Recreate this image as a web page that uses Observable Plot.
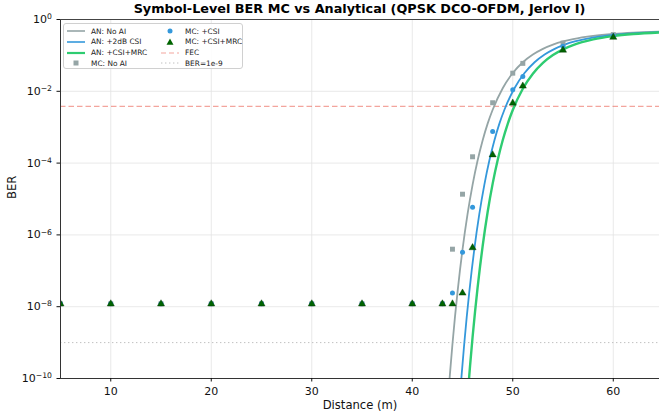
<!DOCTYPE html>
<html><head><meta charset="utf-8">
<script src="https://cdn.jsdelivr.net/npm/d3@7"></script>
<script src="https://cdn.jsdelivr.net/npm/@observablehq/plot@0.6"></script>
<style>
body{margin:0;background:#fff;font-family:"DejaVu Sans",sans-serif;}
#wrap{position:relative;width:659px;height:416px;overflow:hidden;}
#title{position:absolute;top:1px;left:60px;width:599px;text-align:center;font-weight:bold;font-size:12.8px;color:#000;white-space:nowrap;}
#legend{position:absolute;left:63px;top:23px;width:180px;height:46px;box-sizing:border-box;border:1px solid #d0d0d0;border-radius:3px;background:rgba(255,255,255,0.85);font-size:7.4px;color:#222;}
.row{position:absolute;height:10px;display:flex;align-items:center;white-space:nowrap;}
.row svg{margin-right:5px;}
</style>
</head><body>
<div id="wrap">
<div id="chart"></div>
<div id="title">Symbol-Level BER MC vs Analytical (QPSK DCO-OFDM, Jerlov I)</div>
<div id="legend"></div>
</div>
<script>
// ---- Analytical curves ----
const anNoAiD   = [43.5,43.75,44,44.25,44.5,44.75,45,45.5,46,46.5,47,47.5,48,49,50,51,52,53,54,55,56,58,60,62,65];
const anNoAiBer = [1.64e-11,1.35e-10,9.16e-10,5.2e-9,2.52e-8,1.06e-7,3.92e-7,3.78e-6,2.48e-5,1.18e-4,4.28e-4,1.26e-3,3.07e-3,1.22e-2,3.22e-2,6.43e-2,0.1056,0.1525,0.1996,0.2444,0.2847,0.3505,0.3978,0.4305,0.4614];
const anCsiD    = [44.67,44.92,45.17,45.42,45.67,45.92,46.17,46.67,47.17,47.67,48.17,48.67,49.17,50.17,51.17,52.17,53.17,54.17,55.17,56.17,57.17,59.17,61.17,63.17,65];
const anCsiBer  = [1.64e-11,1.35e-10,9.16e-10,5.2e-9,2.52e-8,1.06e-7,3.92e-7,3.78e-6,2.48e-5,1.18e-4,4.28e-4,1.26e-3,3.07e-3,1.22e-2,3.22e-2,6.43e-2,0.1056,0.1525,0.1996,0.2444,0.2847,0.3505,0.3978,0.4305,0.4514];
const anMrcD    = [45.5,45.75,46,46.25,46.5,46.75,47,47.5,48,48.5,49,49.5,50,51,52,53,54,55,56,58,60,62,65];
const anMrcBer  = [2.99e-11,2.24e-10,1.41e-9,7.46e-9,3.42e-8,1.36e-7,4.82e-7,4.34e-6,2.68e-5,1.22e-4,4.34e-4,1.247e-3,3.02e-3,1.179e-2,3.095e-2,6.19e-2,0.1022,0.1478,0.1941,0.279,0.345,0.3932,0.4396];

// ---- Monte-Carlo points ----
const mcD      = [5,10,15,20,25,30,35,40,43,44,45,46,48,50,51,55,60];
const mcNoAi   = [1.2e-8,1.2e-8,1.2e-8,1.2e-8,1.2e-8,1.2e-8,1.2e-8,1.2e-8,1.2e-8,4.0e-7,1.36e-5,1.5e-4,4.8e-3,3.2e-2,6.0e-2,0.22,0.38];
const mcCsi    = [1.2e-8,1.2e-8,1.2e-8,1.2e-8,1.2e-8,1.2e-8,1.2e-8,1.2e-8,1.2e-8,2.4e-8,3.3e-7,5.9e-6,7.6e-4,1.1e-2,2.6e-2,0.18,0.35];
const mcMrc    = [1.2e-8,1.2e-8,1.2e-8,1.2e-8,1.2e-8,1.2e-8,1.2e-8,1.2e-8,1.2e-8,1.2e-8,2.4e-8,4.4e-7,1.7e-4,4.7e-3,1.4e-2,0.14,0.32];

const fecBer = 3.8e-3;
const refBer = 1e-9;

const xTicks = [10,20,30,40,50,60];
const yTicks = [1,1e-2,1e-4,1e-6,1e-8,1e-10];
const yGrid  = [1,1e-2,1e-4,1e-6,1e-8];

const legendCol1 = ["AN: No AI","AN: +2dB CSI","AN: +CSI+MRC","MC: No AI"];
const legendCol2 = ["MC: +CSI","MC: +CSI+MRC","FEC","BER=1e-9"];

const C = {grey:"#95a5a6", blue:"#3498db", green:"#2ecc71", dkgreen:"#006400", fec:"#e74c3c"};

const zip = (ds, vs) => ds.map((d,i)=>({d, ber: vs[i]}));

const plot = Plot.plot({
  width: 659, height: 416,
  marginTop: 19, marginLeft: 60, marginRight: 0, marginBottom: 38,
  style: {fontFamily: "DejaVu Sans", fontSize: "11px", color: "#111", background: "#fff"},
  x: {domain: [5, 64.6]},
  y: {type: "log", domain: [1e-10, 1]},
  marks: [
    Plot.gridX(xTicks, {stroke: "#e3e3e3", strokeOpacity: 1, strokeWidth: 0.8}),
    Plot.gridY(yGrid, {stroke: "#e3e3e3", strokeOpacity: 1, strokeWidth: 0.8}),
    Plot.ruleY([fecBer], {stroke: C.fec, strokeOpacity: 0.5, strokeWidth: 1.2, strokeDasharray: "5.5,3"}),
    Plot.ruleY([refBer], {stroke: "#c0c0c0", strokeWidth: 1, strokeDasharray: "1.4,2.6"}),
    Plot.line(zip(anNoAiD, anNoAiBer), {x: "d", y: "ber", stroke: C.grey, strokeWidth: 1.8, curve: "monotone-x", clip: true}),
    Plot.line(zip(anCsiD, anCsiBer), {x: "d", y: "ber", stroke: C.blue, strokeWidth: 1.8, curve: "monotone-x", clip: true}),
    Plot.line(zip(anMrcD, anMrcBer), {x: "d", y: "ber", stroke: C.green, strokeWidth: 2.4, curve: "monotone-x", clip: true}),
    Plot.dot(zip(mcD, mcNoAi), {x: "d", y: "ber", symbol: "square", r: 2.8, fill: C.grey, stroke: "none", clip: true}),
    Plot.dot(zip(mcD, mcCsi), {x: "d", y: "ber", symbol: "circle", r: 2.5, fill: C.blue, stroke: "none", clip: true}),
    Plot.dot(zip(mcD, mcMrc), {x: "d", y: "ber", symbol: "triangle", r: 2.65, fill: C.dkgreen, stroke: "#003300", strokeWidth: 0.4, clip: true}),
    Plot.ruleX([5], {stroke: "#333", strokeWidth: 1}),
    Plot.ruleY([1e-10], {stroke: "#333", strokeWidth: 1}),
    Plot.ruleY([1], {stroke: "#444", strokeWidth: 1}),
    Plot.axisX({ticks: xTicks, tickSize: 3.5, tickPadding: 5, label: null, fontSize: 11}),
    Plot.axisY({ticks: yTicks, tickSize: 3.5, tickPadding: 5, tickFormat: v => "10^" + Math.round(Math.log10(v)), label: null, fontSize: 11}),
    Plot.text(["Distance (m)"], {frameAnchor: "bottom", dy: 30, fontSize: 11.6, fill: "#111"}),
    Plot.text(["BER"], {frameAnchor: "left", dx: -48, rotate: -90, fontSize: 11.6, fill: "#111"})
  ]
});
document.getElementById("chart").appendChild(plot);

// superscript exponents on y tick labels
const NS = "http://www.w3.org/2000/svg";
plot.querySelectorAll('g[aria-label="y-axis tick label"] text').forEach(t => {
  const s = t.textContent;
  if (!s.includes("^")) return;
  const [b, e] = s.split("^");
  t.textContent = "";
  const t1 = document.createElementNS(NS, "tspan"); t1.textContent = b;
  const t2 = document.createElementNS(NS, "tspan"); t2.textContent = e.replace("-", "\u2212");
  t2.setAttribute("dy", "-0.5em"); t2.setAttribute("font-size", "7.7px");
  t.appendChild(t1); t.appendChild(t2);
});

// legend
const lg = document.getElementById("legend");
const sw = {
  "AN: No AI": `<line x1="1" y1="5" x2="19" y2="5" stroke="${C.grey}" stroke-width="1.6"/>`,
  "AN: +2dB CSI": `<line x1="1" y1="5" x2="19" y2="5" stroke="${C.blue}" stroke-width="1.6"/>`,
  "AN: +CSI+MRC": `<line x1="1" y1="5" x2="19" y2="5" stroke="${C.green}" stroke-width="2.2"/>`,
  "MC: No AI": `<rect x="7.5" y="2.5" width="5" height="5" fill="${C.grey}"/>`,
  "MC: +CSI": `<circle cx="10" cy="5" r="2.5" fill="${C.blue}"/>`,
  "MC: +CSI+MRC": `<path d="M10,1.5 L13.5,7.8 L6.5,7.8 Z" fill="${C.dkgreen}"/>`,
  "FEC": `<line x1="1" y1="5" x2="19" y2="5" stroke="${C.fec}" stroke-opacity="0.5" stroke-width="1.2" stroke-dasharray="5,3"/>`,
  "BER=1e-9": `<line x1="1" y1="5" x2="19" y2="5" stroke="#c0c0c0" stroke-width="1" stroke-dasharray="1.4,2.6"/>`
};
[[legendCol1, 2], [legendCol2, 96]].forEach(([col, left]) => {
  col.forEach((name, i) => {
    const r = document.createElement("div");
    r.className = "row";
    r.style.left = left + "px";
    r.style.top = (2 + i * 10.8) + "px";
    r.innerHTML = `<svg width="20" height="10">${sw[name]}</svg><span>${name}</span>`;
    lg.appendChild(r);
  });
});
</script>
</body></html>
